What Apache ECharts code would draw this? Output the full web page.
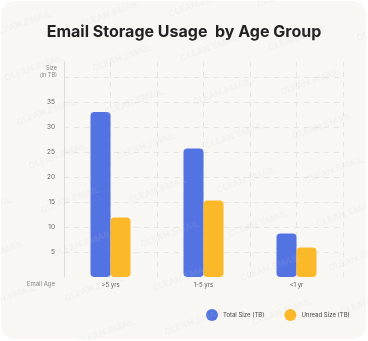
<!DOCTYPE html>
<html>
<head>
<meta charset="utf-8">
<script src="https://cdn.jsdelivr.net/npm/echarts@6/dist/echarts.min.js"></script>
<style>
  html, body { margin: 0; padding: 0; background: #ffffff; }
  #chart { width: 368px; height: 341px; }
</style>
</head>
<body>
<div id="chart"></div>
<script>
// Storage by email age group, in terabytes
const ageGroups = ['>5 yrs', '1-5 yrs', '<1 yr'];
const totalSize = [33, 25.7, 8.7];
const unreadSize = [11.9, 15.3, 5.9];
const seriesNames = ['Total Size (TB)', 'Unread Size (TB)'];
const sizeTicks = [5, 10, 15, 20, 25, 30, 35];

const FONT = 'Inter, "Noto Sans", sans-serif';
const BLUE = '#5473E3';
const ORANGE = '#FBB829';
const GRID_LINE = '#e7e5e1';

// faint repeated brand stamp across the card
const stamps = [];
for (let j = -2; j < 9; j++) {
  for (let i = -1; i < 5; i++) {
    stamps.push({
      type: 'text',
      x: 10 + 100 * i + 12 * j,
      y: -20 + 34 * i + 44 * j,
      rotation: 20 * Math.PI / 180,
      silent: true,
      z: 100,
      style: {
        text: 'CLEAN.EMAIL',
        font: 'bold 9px ' + FONT,
        fill: 'rgba(200,200,200,0.13)',
        align: 'center',
        verticalAlign: 'middle'
      }
    });
  }
}

const chart = echarts.init(document.getElementById('chart'));
chart.setOption({
  animation: false,
  backgroundColor: '#ffffff',
  title: {
    text: 'Email Storage Usage  by Age Group',
    left: 'center',
    top: 19,
    textStyle: { fontFamily: FONT, fontSize: 16, fontWeight: 'bold', color: '#222222' }
  },
  legend: {
    data: seriesNames,
    top: 304,
    left: 201,
    width: 200,
    icon: 'circle',
    itemWidth: 12,
    itemHeight: 12,
    itemGap: 20,
    textStyle: { fontFamily: FONT, fontSize: 6, color: '#444444' }
  },
  grid: [
    { left: 64, right: 25, top: 77, bottom: 64 },
    { left: 64, right: 25, top: 62, bottom: 64 }
  ],
  xAxis: [
    {
      type: 'category',
      data: ageGroups,
      gridIndex: 0,
      axisLine: { show: false },
      axisTick: { show: false },
      axisLabel: { fontFamily: FONT, fontSize: 6, color: '#555555', margin: 5 }
    },
    {
      // half-category guides for the vertical dashed lines
      type: 'value',
      gridIndex: 1,
      min: 0, max: 6, interval: 1,
      axisLine: { show: false },
      axisTick: { show: false },
      axisLabel: { show: false },
      splitLine: { show: true, lineStyle: { color: GRID_LINE, type: [5, 5] } }
    }
  ],
  yAxis: [
    {
      type: 'value',
      gridIndex: 0,
      min: 0, max: 40, interval: 5,
      axisLine: { show: false },
      axisTick: { show: false },
      axisLabel: {
        fontFamily: FONT, fontSize: 6.5, color: '#666666', margin: 9,
        formatter: v => sizeTicks.includes(v) ? String(v) : ''
      },
      splitLine: { show: true, showMinLine: false, lineStyle: { color: GRID_LINE, type: [5, 5] } }
    },
    {
      type: 'value',
      gridIndex: 1,
      min: 0, max: 1,
      axisLine: { show: true, lineStyle: { color: '#dddbd7', width: 1 } },
      axisTick: { show: false },
      axisLabel: { show: false },
      splitLine: { show: false }
    }
  ],
  graphic: [
    {
      type: 'rect',
      shape: { x: 1, y: 1, width: 365, height: 338, r: 14 },
      style: { fill: '#f8f7f3' },
      z: -10,
      silent: true
    },
    {
      type: 'text',
      x: 57, y: 65,
      style: { text: 'Size\n(in TB)', font: '5.5px ' + FONT, fill: '#888888', align: 'right', lineHeight: 7 }
    },
    {
      type: 'text',
      x: 55, y: 284.5,
      style: { text: 'Email Age', font: '6px ' + FONT, fill: '#888888', align: 'right', verticalAlign: 'middle' }
    }
  ].concat(stamps),
  series: [
    {
      name: seriesNames[0],
      type: 'bar',
      data: totalSize,
      barWidth: 20,
      barGap: '0%',
      itemStyle: { color: BLUE, borderRadius: 4 }
    },
    {
      name: seriesNames[1],
      type: 'bar',
      data: unreadSize,
      barWidth: 20,
      barGap: '0%',
      itemStyle: { color: ORANGE, borderRadius: 4 }
    }
  ]
});
</script>
</body>
</html>
